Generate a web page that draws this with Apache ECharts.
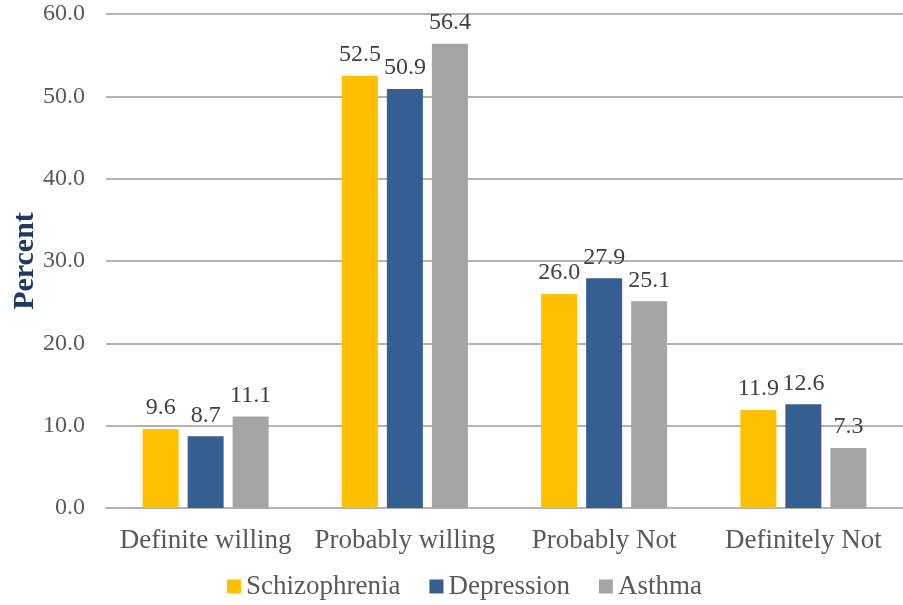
<!DOCTYPE html>
<html>
<head>
<meta charset="utf-8">
<script src="https://cdn.jsdelivr.net/npm/echarts@6/dist/echarts.min.js"></script>
<style>html,body{margin:0;padding:0;background:#fff}#c{width:903px;height:605px}</style>
</head>
<body>
<div id="c"></div>
<script>
const categories = ['Definite willing', 'Probably willing', 'Probably Not', 'Definitely Not'];
const schizophrenia = [9.6, 52.5, 26.0, 11.9];
const depression = [8.7, 50.9, 27.9, 12.6];
const asthma = [11.1, 56.4, 25.1, 7.3];
const seriesNames = ['Schizophrenia', 'Depression', 'Asthma'];
const colors = ['#FFC000', '#365F91', '#A5A5A5'];

const FONT = '"Liberation Serif", "Times New Roman", serif';
const chart = echarts.init(document.getElementById('c'));
const label = {
  show: true, position: 'top', distance: 9,
  fontFamily: FONT, fontSize: 24, color: '#404040',
  formatter: p => p.value.toFixed(1)
};
function mk(name, data, color) {
  return {
    name, type: 'bar', data,
    barWidth: 36, barGap: '25%',
    itemStyle: { color },
    label
  };
}
chart.setOption({
  animation: false,
  color: colors,
  grid: { left: 106, right: 0, top: 14, bottom: 97, containLabel: false, outerBoundsMode: 'none' },
  legend: {
    bottom: 0, left: 222,
    itemWidth: 14, itemHeight: 14, itemGap: 29,
    icon: 'rect',
    textStyle: { fontFamily: FONT, fontSize: 27, color: '#595959' },
    data: seriesNames
  },
  xAxis: {
    type: 'category', data: categories,
    axisLine: { lineStyle: { color: '#B3B3B3', width: 2 } },
    axisTick: { show: false },
    axisLabel: { fontFamily: FONT, fontSize: 27, color: '#595959', margin: 19, interval: 0 }
  },
  yAxis: {
    type: 'value', min: 0, max: 60, interval: 10,
    name: 'Percent', nameLocation: 'middle', nameGap: 66, nameRotate: 90,
    nameMoveOverlap: false,
    nameTextStyle: { fontFamily: FONT, fontSize: 30, fontWeight: 'bold', color: '#1F3864' },
    axisLine: { show: false },
    axisTick: { show: false },
    splitLine: { lineStyle: { color: '#B3B3B3', width: 2 } },
    axisLabel: { fontFamily: FONT, fontSize: 24, color: '#595959', margin: 21, formatter: v => v.toFixed(1) }
  },
  series: [
    mk(seriesNames[0], schizophrenia, colors[0]),
    mk(seriesNames[1], depression, colors[1]),
    mk(seriesNames[2], asthma, colors[2])
  ]
});
</script>
</body>
</html>
